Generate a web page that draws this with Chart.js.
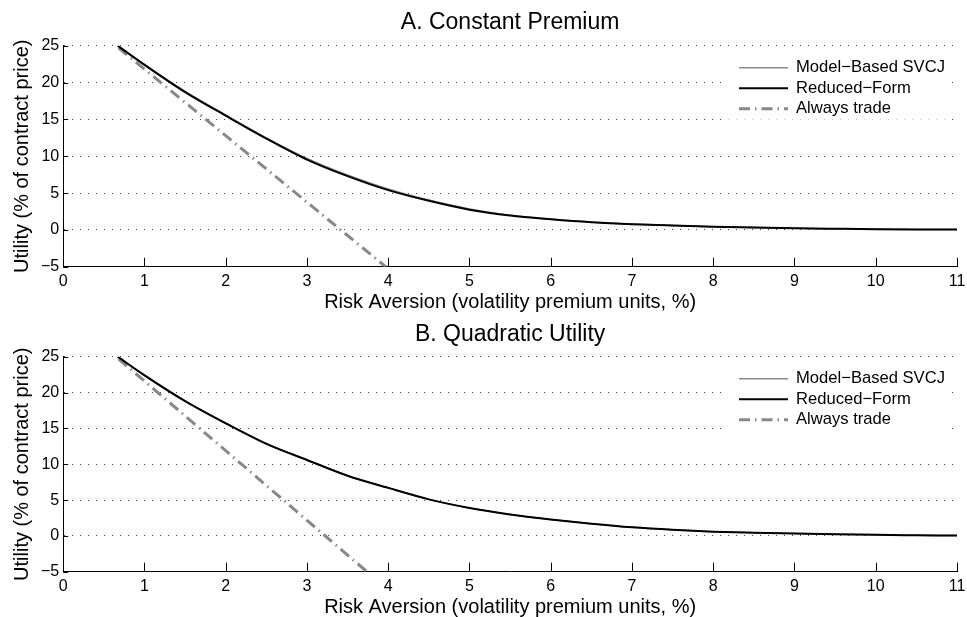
<!DOCTYPE html>
<html>
<head>
<meta charset="utf-8">
<script src="https://cdn.jsdelivr.net/npm/chart.js@4.4.1/dist/chart.umd.min.js"></script>
<style>
html, body { margin: 0; padding: 0; background: #fff; }
.panel { position: absolute; left: 0; width: 967px; }
</style>
</head>
<body>
<div class="panel" style="top:0;height:312px"><canvas id="chartA"></canvas></div>
<div class="panel" style="top:312px;height:305px"><canvas id="chartB"></canvas></div>
<script>
// risk aversion grid (x axis)
const riskAversion = [0.67, 1, 1.5, 2, 2.5, 3, 3.5, 4, 4.5, 5, 5.5, 6, 6.5, 7, 7.5, 8, 8.5, 9, 9.5, 10, 10.5, 11];

// panel A: constant premium
const svcjA    = [25, 22.45, 18.8, 15.6, 12.5, 9.7, 7.45, 5.55, 4.05, 2.85, 2.0, 1.48, 1.07, 0.8, 0.6, 0.45, 0.33, 0.23, 0.16, 0.1, 0.07, 0.05];
const reducedA = [25, 22.4, 18.7, 15.5, 12.4, 9.55, 7.3, 5.4, 3.95, 2.75, 1.95, 1.45, 1.05, 0.78, 0.6, 0.45, 0.33, 0.23, 0.16, 0.1, 0.07, 0.05];
const alwaysXA = [0.68, 3.97];
const alwaysA  = [24.7, -5];

// panel B: quadratic utility
const svcjB    = [25, 22.45, 18.85, 15.75, 12.9, 10.6, 8.4, 6.7, 5.1, 3.9, 3.0, 2.3, 1.7, 1.2, 0.85, 0.6, 0.45, 0.33, 0.23, 0.15, 0.1, 0.05];
const reducedB = [25, 22.4, 18.8, 15.7, 12.85, 10.6, 8.4, 6.7, 5.1, 3.9, 3.0, 2.3, 1.7, 1.2, 0.85, 0.6, 0.45, 0.33, 0.23, 0.15, 0.1, 0.05];
const alwaysXB = [0.68, 3.74];
const alwaysB  = [24.7, -5];

const seriesNames = ['Model\u2212Based SVCJ', 'Reduced\u2212Form', 'Always trade'];
const xTitle = 'Risk Aversion (volatility premium units, %)';
const yTitle = 'Utility (% of contract price)';

const FONT = 'Liberation Sans, Arial, Helvetica, sans-serif';

function pts(xs, ys) {
    return xs.map((x, i) => ({ x: x, y: ys[i] }));
}

// short tick marks pointing into the plot, like MATLAB axes
const innerTicks = {
    id: 'innerTicks',
    afterDatasetsDraw(chart) {
        const ctx = chart.ctx;
        const a = chart.chartArea;
        const xs = chart.scales.x, ys = chart.scales.y;
        ctx.save();
        ctx.strokeStyle = '#000';
        ctx.lineWidth = 1;
        ctx.setLineDash([]);
        xs.ticks.forEach(t => {
            const px = Math.round(xs.getPixelForValue(t.value)) + 0.5;
            ctx.beginPath();
            ctx.moveTo(px, a.bottom);
            ctx.lineTo(px, a.bottom - 9);
            ctx.stroke();
        });
        ys.ticks.forEach(t => {
            const py = Math.round(ys.getPixelForValue(t.value)) + 0.5;
            ctx.beginPath();
            ctx.moveTo(a.left, py);
            ctx.lineTo(a.left + 5, py);
            ctx.stroke();
        });
        ctx.restore();
    }
};

// legend inside the axes, top right, white background, no frame
const boxLegend = {
    id: 'boxLegend',
    afterDraw(chart) {
        const ctx = chart.ctx;
        const a = chart.chartArea;
        const left = a.right - 230;
        ctx.save();
        ctx.fillStyle = '#fff';
        ctx.fillRect(left, a.top + 6, 223, 68);
        ctx.font = '16.6px ' + FONT;
        ctx.textBaseline = 'middle';
        chart.data.datasets.forEach((ds, i) => {
            const y = a.top + 22 + i * 20.5;
            ctx.strokeStyle = ds.borderColor;
            ctx.lineWidth = ds.borderWidth;
            ctx.setLineDash(ds.borderDash || []);
            ctx.beginPath();
            ctx.moveTo(left + 12, y);
            ctx.lineTo(left + 61, y);
            ctx.stroke();
            ctx.fillStyle = '#000';
            ctx.fillText(ds.label, left + 69, y);
        });
        ctx.restore();
    }
};

function makeChart(id, title, svcj, reduced, alwaysX, always, titlePad) {
    return new Chart(document.getElementById(id), {
        type: 'line',
        data: {
            datasets: [
                {
                    label: seriesNames[0],
                    data: pts(riskAversion, svcj),
                    borderColor: '#8a8a8a',
                    borderWidth: 1.5,
                    order: 1
                },
                {
                    label: seriesNames[1],
                    data: pts(riskAversion, reduced),
                    borderColor: '#000',
                    borderWidth: 2,
                    order: 0
                },
                {
                    label: seriesNames[2],
                    data: pts(alwaysX, always),
                    borderColor: '#888',
                    borderWidth: 3,
                    borderDash: [11, 5, 1.5, 5],
                    order: 2
                }
            ]
        },
        options: {
            responsive: true,
            maintainAspectRatio: false,
            animation: false,
            elements: {
                point: { radius: 0 },
                line: { cubicInterpolationMode: 'monotone', fill: false }
            },
            layout: { padding: { left: 10, right: 0, top: 0, bottom: 0 } },
            plugins: {
                legend: { display: false },
                tooltip: { enabled: false },
                title: {
                    display: true,
                    fullSize: false,
                    text: title,
                    color: '#000',
                    font: { family: FONT, size: 23, weight: 'normal' },
                    padding: titlePad
                }
            },
            scales: {
                x: {
                    type: 'linear',
                    min: 0,
                    max: 11,
                    grid: { display: false, drawTicks: false },
                    border: { display: true, color: '#000', width: 1 },
                    ticks: {
                        stepSize: 1,
                        padding: 5,
                        color: '#000',
                        font: { family: FONT, size: 16 },
                        maxRotation: 0
                    },
                    title: {
                        display: true,
                        text: xTitle,
                        color: '#000',
                        font: { family: FONT, size: 20, lineHeight: 1 },
                        padding: { top: -4, bottom: 0 }
                    },
                    afterFit: s => { s.paddingRight = 10; }
                },
                y: {
                    min: -5,
                    max: 25,
                    grid: { color: '#444', lineWidth: 1, drawTicks: false },
                    border: { display: true, color: '#000', width: 1, dash: [1, 7] },
                    ticks: {
                        stepSize: 5,
                        padding: 4,
                        color: '#000',
                        font: { family: FONT, size: 16 },
                        callback: v => String(v).replace('-', '\u2212')
                    },
                    title: {
                        display: true,
                        text: yTitle,
                        color: '#000',
                        font: { family: FONT, size: 20, lineHeight: 1.2 },
                        padding: { top: 0, bottom: 3 }
                    }
                }
            }
        },
        plugins: [innerTicks, boxLegend]
    });
}

makeChart('chartA', 'A. Constant Premium', svcjA, reducedA, alwaysXA, alwaysA, { top: 9.2, bottom: 8.9 });
makeChart('chartB', 'B. Quadratic Utility', svcjB, reducedB, alwaysXB, alwaysB, { top: 8.7, bottom: 8.4 });
</script>
</body>
</html>
